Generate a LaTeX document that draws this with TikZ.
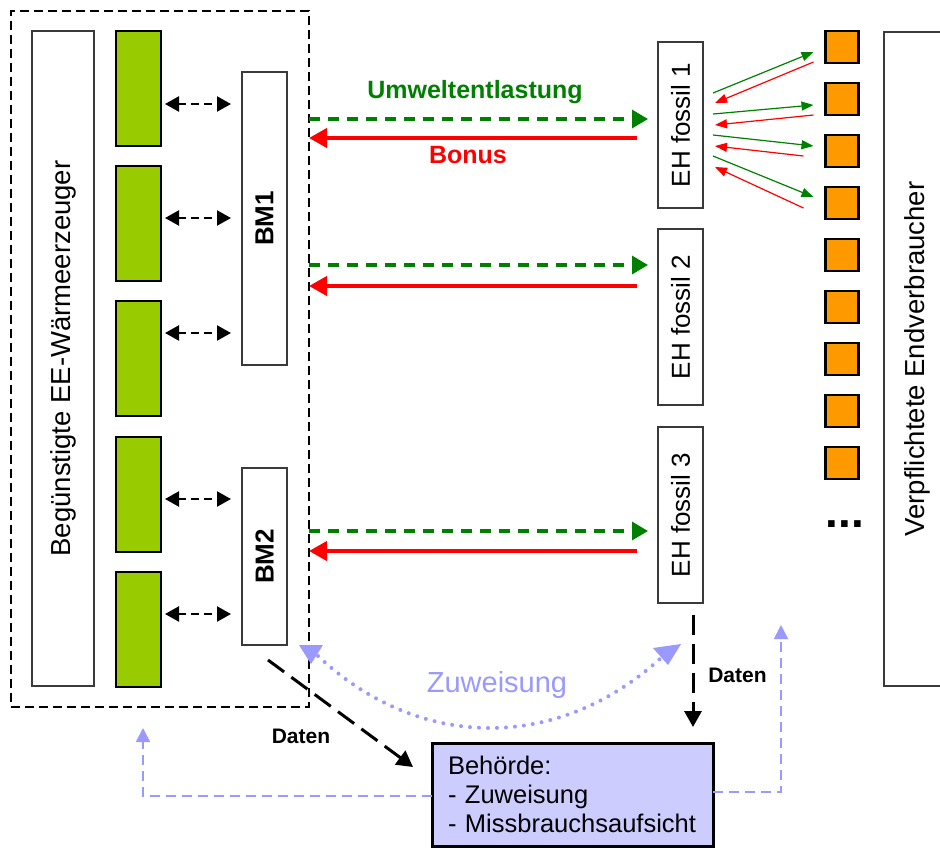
\documentclass[tikz,border=0pt]{standalone}
\usepackage{fontspec}
\setmainfont{Liberation Sans}
\usetikzlibrary{arrows.meta,calc}

\definecolor{eegreen}{HTML}{99CC00}
\definecolor{consorange}{HTML}{FF9900}
\definecolor{flowgreen}{HTML}{008000}
\definecolor{flowred}{HTML}{FF0000}
\definecolor{lav}{HTML}{9999FF}
\definecolor{lavfill}{HTML}{CCCCFF}
\definecolor{boxgray}{HTML}{3A3A3A}

\begin{document}
\begin{tikzpicture}[x=1pt,y=-1pt,
  every node/.style={inner sep=0pt,outer sep=0pt},
  plainbox/.style={draw=boxgray,line width=1.3pt,fill=white},
  eebox/.style={draw=black,line width=2.5pt,fill=eegreen,minimum width=45pt,minimum height=115pt},
  sqbox/.style={draw=black,line width=2.5pt,fill=consorange,minimum width=33pt,minimum height=32pt},
  bigtxt/.style={font=\fontsize{27.5}{33}\selectfont},
  bmtxt/.style={font=\fontsize{26}{31}\selectfont\bfseries},
  ehtxt/.style={font=\fontsize{26}{31}\selectfont},
  dbl/.style={{Triangle[length=14pt,width=15pt]}-{Triangle[length=14pt,width=15pt]},
    line width=2.2pt,dash pattern=on 8pt off 5pt},
  grnflow/.style={-{Triangle[length=16pt,width=18pt]},draw=flowgreen,
    line width=3.2pt,dash pattern=on 11pt off 8pt},
  redflow/.style={-{Triangle[length=18pt,width=19pt]},draw=flowred,line width=4pt},
  fang/.style={-{Triangle[length=12pt,width=9pt]},draw=flowgreen,line width=1.2pt},
  fanr/.style={-{Triangle[length=12pt,width=9pt]},draw=flowred,line width=1.2pt},
  datarrow/.style={-{Triangle[length=16pt,width=17pt]},line width=3pt,
    dash pattern=on 20pt off 9pt},
  lavdash/.style={-{Triangle[length=14pt,width=14pt]},draw=lav,
    line width=1.9pt,dash pattern=on 10pt off 6pt},
  zuw/.style={draw=lav,line width=4pt,line cap=round,dash pattern=on 0pt off 9pt},
  lbl/.style={font=\fontsize{25}{30}\selectfont\bfseries,anchor=base},
  datlbl/.style={font=\fontsize{21}{25}\selectfont\bfseries,anchor=base}
]
\useasboundingbox (0,0) rectangle (940,847);
\clip (0,0) rectangle (940,847);

% ---- group of renewable heat producers ----
\node[draw,line width=1.8pt,dash pattern=on 9pt off 5pt,minimum width=298pt,minimum height=696pt] (ee) at (160,359) {};
\node[plainbox,minimum width=62pt,minimum height=655pt] (eetall) at (63,358.5) {};
\node[bigtxt,rotate=90] at (eetall.center) {Begünstigte EE-Wärmeerzeuger};

\node[eebox] (g1) at (138.5,88.5) {};
\node[eebox] (g2) at (138.5,223.5) {};
\node[eebox] (g3) at (138.5,358.5) {};
\node[eebox] (g4) at (138.5,494.5) {};
\node[eebox] (g5) at (138.5,629.5) {};

\node[plainbox,minimum width=45pt,minimum height=293pt] (bm1) at (264.5,218.5) {};
\node[bmtxt,rotate=90] at (bm1.center) {BM1};
\node[plainbox,minimum width=45pt,minimum height=177pt] (bm2) at (264.5,556.5) {};
\node[bmtxt,rotate=90] at (bm2.center) {BM2};

% links between producers and their managers
\coordinate (a1) at ([xshift=4pt,yshift=-15.5pt]g1.east);
\coordinate (a2) at ([xshift=4pt,yshift=5.5pt]g2.east);
\coordinate (a3) at ([xshift=4pt,yshift=25.5pt]g3.east);
\coordinate (a4) at ([xshift=4pt,yshift=-4.5pt]g4.east);
\coordinate (a5) at ([xshift=4pt,yshift=15.5pt]g5.east);
\draw[dbl,shorten >=11pt] (a1) -- (bm1.west |- a1);
\draw[dbl,shorten >=11pt] (a2) -- (bm1.west |- a2);
\draw[dbl,shorten >=11pt] (a3) -- (bm1.west |- a3);
\draw[dbl,shorten >=11pt] (a4) -- (bm2.west |- a4);
\draw[dbl,shorten >=11pt] (a5) -- (bm2.west |- a5);

% ---- fossil heat suppliers ----
\node[plainbox,minimum width=45pt,minimum height=166pt] (eh1) at (680.5,125) {};
\node[ehtxt,rotate=90] at (eh1.center) {EH fossil 1};
\node[plainbox,minimum width=45pt,minimum height=176pt] (eh2) at (680.5,317) {};
\node[ehtxt,rotate=90] at (eh2.center) {EH fossil 2};
\node[plainbox,minimum width=45pt,minimum height=176pt] (eh3) at (680.5,515) {};
\node[ehtxt,rotate=90] at (eh3.center) {EH fossil 3};

% relief / bonus flows
\coordinate (u1) at ([xshift=-10pt,yshift=6pt]eh1.west);
\coordinate (b1) at ([xshift=-21pt,yshift=-13pt]eh1.west);
\coordinate (u2) at ([xshift=-10pt,yshift=52pt]eh2.west);
\coordinate (b2) at ([xshift=-21pt,yshift=31pt]eh2.west);
\coordinate (u3) at ([xshift=-10pt,yshift=-16pt]eh3.west);
\coordinate (b3) at ([xshift=-21pt,yshift=-36pt]eh3.west);
\draw[grnflow] (ee.east |- u1) -- (u1);
\draw[redflow] (b1) -- (ee.east |- b1);
\draw[grnflow] (ee.east |- u2) -- (u2);
\draw[redflow] (b2) -- (ee.east |- b2);
\draw[grnflow] (ee.east |- u3) -- (u3);
\draw[redflow] (b3) -- (ee.east |- b3);

\node[lbl,text=flowgreen] at (475,98) {Umweltentlastung};
\node[lbl,text=flowred] at (468,163) {Bonus};

% ---- obliged end consumers ----
\foreach \k in {0,...,8}{
  \node[sqbox] (o\k) at (842,{47+52*\k}) {};
}
\node[font=\fontsize{46}{50}\selectfont\bfseries,anchor=base] (dots) at (845,527) {...};

\node[plainbox,minimum width=96pt,minimum height=654pt] (endv) at (932,359) {};
\node[bigtxt,rotate=90] at (917,359) {Verpflichtete Endverbraucher};

% fan between EH fossil 1 and its consumers
\draw[fang] ([xshift=10pt,yshift=32pt]eh1.east) -- ([xshift=-12pt,yshift=-5pt]o0.west);
\draw[fanr] ([xshift=-12pt,yshift=-15pt]o0.west) -- ([xshift=12pt,yshift=22pt]eh1.east);
\draw[fang] ([xshift=10pt,yshift=11pt]eh1.east) -- ([xshift=-12pt,yshift=-6pt]o1.west);
\draw[fanr] ([xshift=-12pt,yshift=-16pt]o1.west) -- ([xshift=12pt,yshift=0pt]eh1.east);
\draw[fang] ([xshift=10pt,yshift=-10pt]eh1.east) -- ([xshift=-12pt,yshift=5pt]o2.west);
\draw[fanr] ([xshift=-22pt,yshift=-5pt]o2.west) -- ([xshift=12pt,yshift=-21pt]eh1.east);
\draw[fang] ([xshift=10pt,yshift=-31pt]eh1.east) -- ([xshift=-12pt,yshift=6pt]o3.west);
\draw[fanr] ([xshift=-22pt,yshift=-5pt]o3.west) -- ([xshift=12pt,yshift=-42pt]eh1.east);

% ---- authority ----
\node[draw=black,line width=3pt,fill=lavfill,minimum width=281pt,minimum height=103pt,
  inner xsep=16pt,text width=249pt,align=left,font=\fontsize{25.5}{29}\selectfont]
  (beh) at (572.5,794.5) {Behörde:\\- Zuweisung\\- Missbrauchsaufsicht};

% data reported to the authority
\draw[datarrow] ([xshift=3.5pt,yshift=-15pt]bm2.south) -- ([xshift=-19pt,yshift=27.5pt]beh.west);
\coordinate (d2) at ([xshift=12.5pt,yshift=-12pt]eh3.south);
\draw[datarrow,shorten >=16pt] (d2) -- (d2 |- beh.north);
\node[datlbl] at (301,743) {Daten};
\node[datlbl] at (737.5,682) {Daten};

% allocation feedback
\draw[lavdash,shorten >=21pt] ([yshift=-1.5pt]beh.west) -| ([xshift=-17pt]ee.south);
\coordinate (vtip) at (781,625);
\draw[lavdash] ([yshift=2.5pt]beh.east) -| (vtip);

\coordinate (zl) at (318,656);
\coordinate (zr) at (663,656);
\draw[zuw] (zl) .. controls (420,752) and (560,752) .. (zr);
\fill[lav] (299,645) -- (323,645) -- (311,664) -- cycle;
\fill[lav] (653,648) -- (681,644) -- (668,665) -- cycle;
\node[font=\fontsize{29}{34}\selectfont,text=lav,anchor=base] at (497,692) {Zuweisung};
\end{tikzpicture}
\end{document}
